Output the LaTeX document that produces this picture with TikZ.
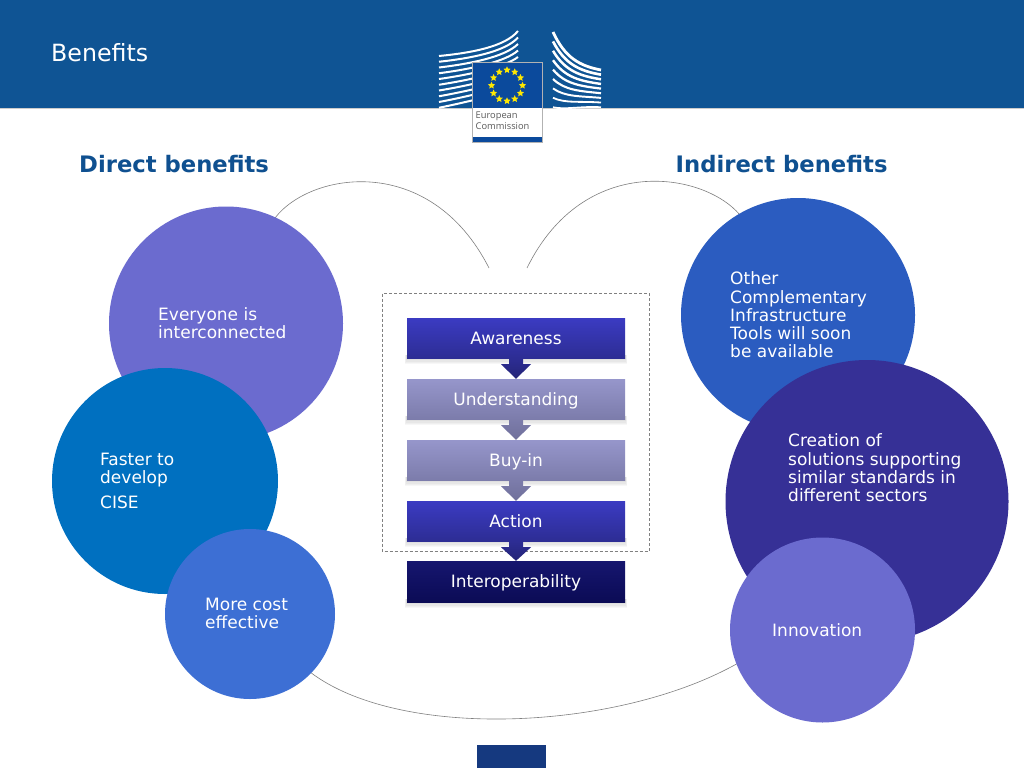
\documentclass[tikz,border=0pt]{standalone}
\usepackage{fontspec}
\setmainfont{DejaVu Sans}
\newfontfamily\logofont{Open Sans}
\usetikzlibrary{calc,shapes.geometric}
\pgfdeclarelayer{back}
\pgfdeclarelayer{shadowlayer}
\pgfsetlayers{back,shadowlayer,main}
\definecolor{hdr}{HTML}{0F5494}
\definecolor{headtxt}{HTML}{0F5090}
\definecolor{emblem}{HTML}{0B4A9C}
\definecolor{tabblue}{HTML}{15397F}
\definecolor{cviolet}{HTML}{6B6BCF}
\definecolor{cteal}{HTML}{0070C0}
\definecolor{cblue}{HTML}{3D6FD4}
\definecolor{croyal}{HTML}{2B5CC0}
\definecolor{cindigo}{HTML}{363096}
\definecolor{sA}{HTML}{3B3BC2}
\definecolor{sB}{HTML}{2D2D94}
\definecolor{lA}{HTML}{9696CB}
\definecolor{lB}{HTML}{7C7CAB}
\definecolor{dA}{HTML}{16166F}
\definecolor{dB}{HTML}{0B0B55}
\tikzset{
  x=1pt,y=-1pt,
  bubble/.style={circle,inner sep=0pt,draw=none},
  bubbletext/.style={anchor=west,align=left,text=white,inner sep=0pt,font=\fontsize{17}{18.3}\selectfont},
  heading/.style={anchor=west,inner sep=0pt,text=headtxt,font=\fontsize{22.7}{24}\selectfont\bfseries},
  stepbox/.style={minimum width=218pt,minimum height=40pt,inner sep=0pt,text=white,text height=13.5pt,text depth=1.5pt,font=\fontsize{17}{18}\selectfont},
  strong/.style={stepbox,top color=sA,bottom color=sB},
  light/.style={stepbox,top color=lA,bottom color=lB},
  dark/.style={stepbox,top color=dA,bottom color=dB},
  arc/.style={draw=black!50,line width=0.6pt},
  wing/.style={draw=white,line width=2pt},
  euro/.style={star,star points=5,star point ratio=2.1,fill=yellow!90!orange,inner sep=0pt,minimum size=7.5pt}
}
\newcommand{\softshadow}[1]{%
  \foreach \g in {5,4,3,2,1}{
    \fill[black,opacity=0.03] ($(#1.south west)+(-\g*0.4,-3)$) rectangle ($(#1.south east)+(\g*0.4,\g*1.1)$);
  }}
\newcommand{\blockarrow}[4]{%
  \shade[top color=#3,bottom color=#4]
    ($(#1.south)+(-7,0)$) -- ($(#1.south)+(7,0)$) -- ($(#1.south)+(7,6)$) -- ($(#1.south)+(15,6)$)
    -- (#2.north) -- ($(#1.south)+(-15,6)$) -- ($(#1.south)+(-7,6)$) -- cycle;}
\begin{document}
\begin{tikzpicture}
\useasboundingbox (0,0) rectangle (1024,768);
\begin{pgfonlayer}{back}
\fill[white] (0,0) rectangle (1024,768);
\fill[hdr] (0,0) rectangle (1024,107.5);
\draw[black!20,line width=0.5pt] (0,108) -- (1024,108);
\node[anchor=west,inner sep=0pt,text=white,font=\fontsize{23.7}{26}\selectfont] (title) at (51,53) {Benefits};

% logo wings
\foreach \k in {0,...,9}{
  \draw[wing] (439,{56+\k*5.75}) .. controls ({470},{53+\k*5.4}) and ({505},{47+\k*5}) .. ({518},{31+\k*6.5});
}
\foreach \k in {0,...,8}{
  \draw[wing,line width={2.8-\k*0.14}] (553,{32+\k*9.4}) .. controls ({565},{58+\k*6.5}) and ({580},{66+\k*5}) .. (601,{70+\k*4.65});
}
\fill[white] (472,62) rectangle (542,142);
\draw[black!30,line width=0.6pt] (472,62) rectangle (542,142);
\fill[emblem] (472.5,62.5) rectangle (541.5,108);
\fill[emblem] (472.5,137) rectangle (541.5,141.5);
\coordinate (ring) at (507,85.5);
\foreach \a in {0,30,...,330}{
  \node[euro] (s\a) at ($(ring)+(\a:15.5 and 15.5)$) {};
}
\node[anchor=north west,inner sep=0pt,align=left,text=black!65,font=\logofont\fontsize{9.3}{11}\selectfont] (ec) at (475.5,111.5) {European\\Commission};

% bottom tab
\fill[tabblue] (477,745) rectangle (546,768);

% headings
\node[heading] (direct) at (79,164) {Direct benefits};
\node[heading] (indirect) at (675.5,164) {Indirect benefits};

% arcs
\coordinate (a1) at (275,218); \coordinate (a2) at (489,268);
\coordinate (a3) at (527,268); \coordinate (a4) at (740,215);
\coordinate (a5) at (310,672); \coordinate (a6) at (740,662);
\draw[arc] (a1) .. controls (310,172) and (430,152) .. (a2);
\draw[arc] (a3) .. controls (584,152) and (704,172) .. (a4);
\draw[arc] (a5) .. controls (400,741) and (620,731) .. (a6);

% bubbles
\node[bubble,fill=cviolet,minimum size=234pt] (c1) at (226,323.5) {};
\node[bubble,fill=cteal,minimum size=226pt] (c2) at (165,481) {};
\node[bubble,fill=cblue,minimum size=170pt] (c3) at (250,614) {};
\node[bubble,fill=croyal,minimum size=234pt] (r1) at (798,315) {};
\node[bubble,fill=cindigo,minimum size=283pt] (r2) at (867,501.5) {};
\node[bubble,fill=cviolet,minimum size=185pt] (r3) at (822.5,630) {};

\node[bubbletext] (t1) at (158,323) {Everyone is\\interconnected};
\node[bubbletext] (t2) at (100,481) {Faster to\\develop\\[7pt]CISE};
\node[bubbletext] (t3) at (205,613.5) {More cost\\effective};
\node[bubbletext] (t4) at (730,315) {Other\\Complementary\\Infrastructure\\Tools will soon\\be available};
\node[bubbletext] (t5) at (788,468) {Creation of\\solutions supporting\\similar standards in\\different sectors};
\node[bubbletext] (t6) at (772,630) {Innovation};

% dashed frame
\draw[dashed,draw=black!50,line width=0.6pt,dash pattern=on 3pt off 2pt] (382.5,293.5) rectangle (649,551.5);
\end{pgfonlayer}

% steps
\path node[strong] (s1) at (516,338) {Awareness}
      node[light] (s2) at (516,399) {Understanding}
      node[light] (s3) at (516,460) {Buy-in}
      node[strong] (s4) at (516,521) {Action}
      node[dark,minimum height=41pt] (s5) at (516,581.5) {Interoperability};
\begin{pgfonlayer}{shadowlayer}
\foreach \n in {s1,s2,s3,s4,s5}{ \softshadow{\n} }
\end{pgfonlayer}
\blockarrow{s1}{s2}{sB}{sB!80!black}
\blockarrow{s2}{s3}{lB}{lB!90!black}
\blockarrow{s3}{s4}{lB}{lB!90!black}
\blockarrow{s4}{s5}{sB}{sB!80!black}
\end{tikzpicture}
\end{document}
